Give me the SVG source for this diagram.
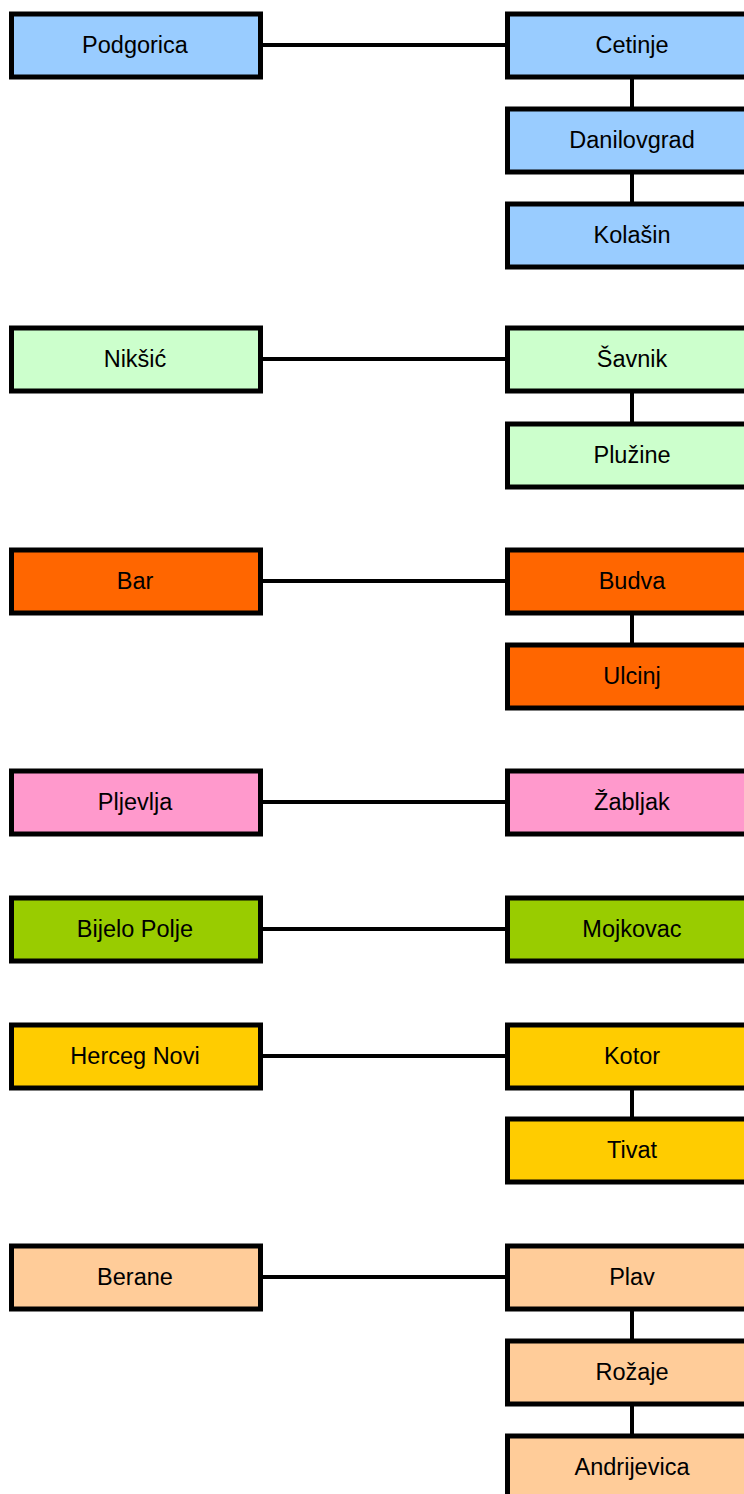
<svg xmlns="http://www.w3.org/2000/svg" width="744" height="1494" viewBox="0 0 744 1494">
<style>
.n rect{stroke:#000;stroke-width:5}
.n text{font-family:"Liberation Sans",Arial,sans-serif;font-size:23.5px;text-anchor:middle;fill:#000}
.c line{stroke:#000;stroke-width:4}
.blue rect{fill:#99CCFF}.lgreen rect{fill:#CCFFCC}.orange rect{fill:#FF6600}.pink rect{fill:#FF99CC}.green rect{fill:#99CC00}.yellow rect{fill:#FFCC00}.peach rect{fill:#FFCC99}
</style>
<g id="connectors" class="c">
<line x1="260" y1="45" x2="507" y2="45"/><line x1="632" y1="78" x2="632" y2="108"/><line x1="632" y1="173" x2="632" y2="203"/>
<line x1="260" y1="359" x2="507" y2="359"/><line x1="632" y1="392" x2="632" y2="422"/>
<line x1="260" y1="581" x2="507" y2="581"/><line x1="632" y1="614" x2="632" y2="644"/>
<line x1="260" y1="802" x2="507" y2="802"/>
<line x1="260" y1="929" x2="507" y2="929"/>
<line x1="260" y1="1056" x2="507" y2="1056"/><line x1="632" y1="1089" x2="632" y2="1118"/>
<line x1="260" y1="1277" x2="507" y2="1277"/><line x1="632" y1="1310" x2="632" y2="1340"/><line x1="632" y1="1405" x2="632" y2="1435"/>
</g>
<g id="podgorica" class="n blue"><rect x="11.5" y="14" width="249" height="63"/><text x="135" y="53">Podgorica</text></g>
<g id="cetinje" class="n blue"><rect x="507.5" y="14" width="249" height="63"/><text x="632" y="53">Cetinje</text></g>
<g id="danilovgrad" class="n blue"><rect x="507.5" y="109" width="249" height="63"/><text x="632" y="148">Danilovgrad</text></g>
<g id="kolasin" class="n blue"><rect x="507.5" y="204" width="249" height="63"/><text x="632" y="243">Kolašin</text></g>
<g id="niksic" class="n lgreen"><rect x="11.5" y="328" width="249" height="63"/><text x="135" y="367">Nikšić</text></g>
<g id="savnik" class="n lgreen"><rect x="507.5" y="328" width="249" height="63"/><text x="632" y="367">Šavnik</text></g>
<g id="pluzine" class="n lgreen"><rect x="507.5" y="424" width="249" height="63"/><text x="632" y="463">Plužine</text></g>
<g id="bar" class="n orange"><rect x="11.5" y="550" width="249" height="63"/><text x="135" y="589">Bar</text></g>
<g id="budva" class="n orange"><rect x="507.5" y="550" width="249" height="63"/><text x="632" y="589">Budva</text></g>
<g id="ulcinj" class="n orange"><rect x="507.5" y="645" width="249" height="63"/><text x="632" y="684">Ulcinj</text></g>
<g id="pljevlja" class="n pink"><rect x="11.5" y="771" width="249" height="63"/><text x="135" y="810">Pljevlja</text></g>
<g id="zabljak" class="n pink"><rect x="507.5" y="771" width="249" height="63"/><text x="632" y="810">Žabljak</text></g>
<g id="bijelo-polje" class="n green"><rect x="11.5" y="898" width="249" height="63"/><text x="135" y="937">Bijelo Polje</text></g>
<g id="mojkovac" class="n green"><rect x="507.5" y="898" width="249" height="63"/><text x="632" y="937">Mojkovac</text></g>
<g id="herceg-novi" class="n yellow"><rect x="11.5" y="1025" width="249" height="63"/><text x="135" y="1064">Herceg Novi</text></g>
<g id="kotor" class="n yellow"><rect x="507.5" y="1025" width="249" height="63"/><text x="632" y="1064">Kotor</text></g>
<g id="tivat" class="n yellow"><rect x="507.5" y="1119" width="249" height="63"/><text x="632" y="1158">Tivat</text></g>
<g id="berane" class="n peach"><rect x="11.5" y="1246" width="249" height="63"/><text x="135" y="1285">Berane</text></g>
<g id="plav" class="n peach"><rect x="507.5" y="1246" width="249" height="63"/><text x="632" y="1285">Plav</text></g>
<g id="rozaje" class="n peach"><rect x="507.5" y="1341" width="249" height="63"/><text x="632" y="1380">Rožaje</text></g>
<g id="andrijevica" class="n peach"><rect x="507.5" y="1436" width="249" height="63"/><text x="632" y="1475">Andrijevica</text></g>
</svg>
